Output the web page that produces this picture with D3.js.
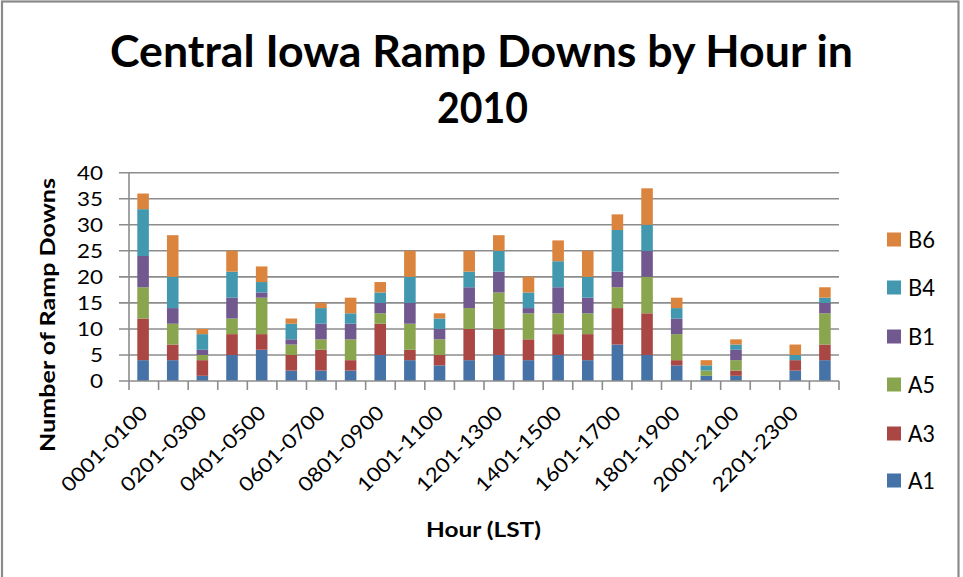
<!DOCTYPE html>
<html>
<head>
<meta charset="utf-8">
<script src="https://cdn.jsdelivr.net/npm/d3@7"></script>
<style>
  html, body { margin: 0; padding: 0; background: #fff; }
  svg { display: block; }
  text { font-family: Lato, "Open Sans", sans-serif; fill: #000; }
</style>
</head>
<body>
<svg id="chart" width="963" height="577"></svg>
<script>
// ---------- data ----------
const categories = ["0001-0100","0101-0200","0201-0300","0301-0400","0401-0500","0501-0600",
  "0601-0700","0701-0800","0801-0900","0901-1000","1001-1100","1101-1200",
  "1201-1300","1301-1400","1401-1500","1501-1600","1601-1700","1701-1800",
  "1801-1900","1901-2000","2001-2100","2101-2200","2201-2300","2301-2400"];
const seriesNames = ["A1","A3","A5","B1","B4","B6"];
const A1 = [4,4,1,5,6,2,2,2,5,4,3,4,5,4,5,4,7,5,3,1,1,0,2,4];
const A3 = [8,3,3,4,3,3,4,2,6,2,2,6,5,4,4,5,7,8,1,0,1,0,2,3];
const A5 = [6,4,1,3,7,2,2,4,2,5,3,4,7,5,4,4,4,7,5,1,2,0,0,6];
const B1 = [6,3,1,4,1,1,3,3,2,4,2,4,4,1,5,3,3,5,3,0,2,0,0,2];
const B4 = [9,6,3,5,2,3,3,2,2,5,2,3,4,3,5,4,8,5,2,1,1,0,1,1];
const B6 = [3,8,1,4,3,1,1,3,2,5,1,4,3,3,4,5,3,7,2,1,1,0,2,2];
const yTicks = [0,5,10,15,20,25,30,35,40];
const xTickLabels = ["0001-0100","0201-0300","0401-0500","0601-0700","0801-0900","1001-1100",
  "1201-1300","1401-1500","1601-1700","1801-1900","2001-2100","2201-2300"];
const colors = ["#4572A7","#AA4643","#89A54E","#71588F","#4198AF","#DB843D"];
const titleLines = ["Central Iowa Ramp Downs by Hour in","2010"];
const yTitle = "Number of Ramp Downs";
const xTitle = "Hour (LST)";

const seriesValues = [A1,A3,A5,B1,B4,B6];
const table = categories.map((c,i) => {
  const row = {cat: c};
  seriesNames.forEach((s,k) => row[s] = seriesValues[k][i]);
  return row;
});

// ---------- layout ----------
const svg = d3.select("#chart");
const plot = {left: 129, right: 839, top: 172.7, bottom: 381};

svg.append("rect").attr("x",2).attr("y",1.5).attr("width",956.5).attr("height",620)
  .attr("fill","#fff").attr("stroke","#8a8a8a").attr("stroke-width",2.2);

const x = d3.scaleBand().domain(categories).range([plot.left, plot.right]).paddingInner(0.61).paddingOuter(0.28);
const xb = d3.scaleBand().domain(categories).range([plot.left, plot.right]);
const y = d3.scaleLinear().domain([0,40]).range([plot.bottom, plot.top]);

// gridlines
svg.append("g").selectAll("line").data(yTicks.filter(t=>t>0)).join("line")
  .attr("x1", plot.left - 10).attr("x2", plot.right)
  .attr("y1", d=>y(d)).attr("y2", d=>y(d))
  .attr("stroke","#8c8c8c").attr("stroke-width",1.6);

// stacked bars
const stack = d3.stack().keys(seriesNames)(table);
svg.append("g").selectAll("g").data(stack).join("g")
  .attr("fill",(d,i)=>colors[i])
  .selectAll("rect").data(d=>d.filter(v=>v[1]-v[0]>0)).join("rect")
  .attr("x", d=>x(d.data.cat)).attr("width", x.bandwidth())
  .attr("y", d=>y(d[1])).attr("height", d=>y(d[0])-y(d[1]));

// axes lines
svg.append("line").attr("x1",plot.left).attr("x2",plot.left).attr("y1",plot.top).attr("y2",plot.bottom)
  .attr("stroke","#8c8c8c").attr("stroke-width",1.6);
svg.append("line").attr("x1",plot.left-10).attr("x2",plot.right).attr("y1",plot.bottom).attr("y2",plot.bottom)
  .attr("stroke","#8c8c8c").attr("stroke-width",1.6);
// x tick marks at category boundaries
const bounds = categories.map(c=>xb(c)).concat([plot.right]);
svg.append("g").selectAll("line").data(bounds).join("line")
  .attr("x1",d=>d).attr("x2",d=>d).attr("y1",plot.bottom).attr("y2",plot.bottom+9)
  .attr("stroke","#8c8c8c").attr("stroke-width",1.6);

// y tick labels
svg.append("g").selectAll("text").data(yTicks).join("text")
  .attr("x",103).attr("y",d=>y(d)+7).attr("text-anchor","end")
  .attr("font-size",19.5)
  .attr("textLength", d=>String(d).length*13).attr("lengthAdjust","spacingAndGlyphs")
  .text(d=>d);

// x tick labels
svg.append("g").selectAll("text").data(xTickLabels).join("text")
  .attr("text-anchor","end").attr("font-size",20)
  .attr("textLength",112).attr("lengthAdjust","spacingAndGlyphs")
  .attr("transform", d=>`translate(${xb(d)+xb.bandwidth()/2+5},${plot.bottom+33}) rotate(-45)`)
  .text(d=>d);

// title
svg.append("text").attr("x",481.5).attr("y",67).attr("text-anchor","middle")
  .attr("font-size",44).attr("font-weight","bold")
  .attr("textLength",743).attr("lengthAdjust","spacingAndGlyphs").text(titleLines[0]);
svg.append("text").attr("x",482.5).attr("y",123).attr("text-anchor","middle")
  .attr("font-size",42).attr("font-weight","bold")
  .attr("textLength",91).attr("lengthAdjust","spacingAndGlyphs").text(titleLines[1]);

// axis titles
svg.append("text").attr("transform","translate(55,315) rotate(-90)").attr("text-anchor","middle")
  .attr("font-size",20).attr("font-weight","bold")
  .attr("textLength",274).attr("lengthAdjust","spacingAndGlyphs").text(yTitle);
svg.append("text").attr("x",483.5).attr("y",537).attr("text-anchor","middle")
  .attr("font-size",20).attr("font-weight","bold")
  .attr("textLength",115).attr("lengthAdjust","spacingAndGlyphs").text(xTitle);

// legend
const legendBase = [489,442,393,345,296,248];
const lg = svg.append("g").selectAll("g").data(seriesNames).join("g")
  .attr("transform",(d,i)=>`translate(0,${legendBase[i]})`);
lg.append("rect").attr("x",887).attr("y",-15.5).attr("width",14).attr("height",14)
  .attr("fill",(d,i)=>colors[i]);
lg.append("text").attr("x",908).attr("y",0).attr("font-size",23)
  .attr("textLength",27).attr("lengthAdjust","spacingAndGlyphs").text(d=>d);
</script>
</body>
</html>
